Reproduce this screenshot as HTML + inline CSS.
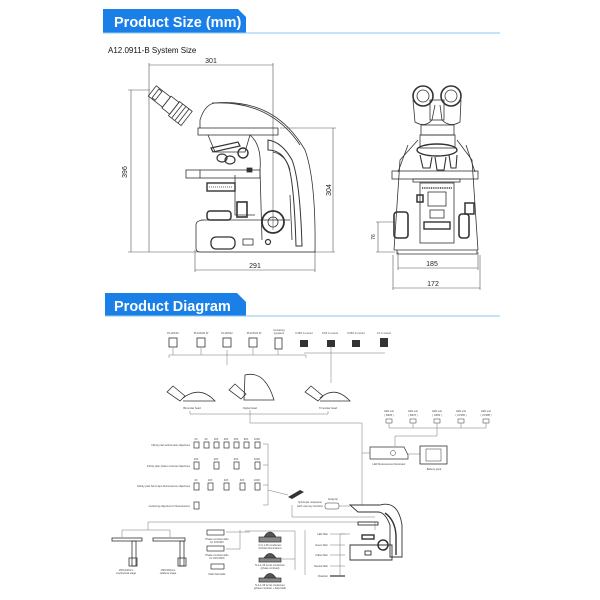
<!DOCTYPE html>
<html><head><meta charset="utf-8"><style>
html,body{margin:0;padding:0;background:#fff;}
svg{display:block;font-family:"Liberation Sans",sans-serif;}
.t{font-size:2.6px;fill:#444;}
</style></head><body>
<svg width="600" height="600" viewBox="0 0 600 600" xmlns="http://www.w3.org/2000/svg">
<!-- header 1 -->
<path d="M103 9 H238 L246 17 V33 H103 Z" fill="#1a7fe6"/>
<line x1="103" y1="33" x2="500" y2="33" stroke="#8ccaf0" stroke-width="1"/>
<text x="114" y="27" font-size="14.5" font-weight="bold" fill="#fff">Product Size (mm)</text>
<text x="108" y="53" font-size="8" fill="#111">A12.0911-B System Size</text>

<g stroke="#555" stroke-width="0.6" fill="none">
<!-- dims left -->
<line x1="149" y1="65" x2="273" y2="65"/><line x1="149" y1="63" x2="149" y2="252"/><line x1="273" y1="63" x2="273" y2="230"/>
<line x1="131" y1="90" x2="131" y2="252"/><line x1="128" y1="90" x2="150" y2="90"/><line x1="128" y1="252" x2="335" y2="252"/>
<line x1="333" y1="128" x2="333" y2="252"/><line x1="280" y1="128" x2="336" y2="128"/>
<line x1="195" y1="270" x2="315" y2="270"/><line x1="195" y1="250" x2="195" y2="272"/><line x1="315" y1="250" x2="315" y2="272"/>
</g>
<!-- left microscope -->
<g stroke="#333" stroke-width="0.8" fill="none">
<g transform="translate(163 100) rotate(38)">
<rect x="-14" y="-7" width="18" height="13"/><rect x="-10" y="-6" width="4" height="11"/>
<rect x="4" y="-8" width="10" height="15"/>
<rect x="14" y="-9" width="16" height="18"/><line x1="18" y1="-9" x2="18" y2="9"/><line x1="22" y1="-9" x2="22" y2="9"/><line x1="26" y1="-9" x2="26" y2="9"/>
</g>
<path d="M200 128 L200 120 Q205 104 215 103 Q275 98 305 150 Q316 180 315 252 H305"/>
<path d="M212 103 Q270 100 300 145"/>
<rect x="198" y="128" width="80" height="7"/>
<path d="M268 140 Q282 142 292 160 Q300 180 302 246 L296 246 Q294 180 288 165 Q282 150 268 150 Z" stroke-width="1"/>
<path d="M273 152 Q286 155 290 170 M290 195 L292 240"/>
<path d="M250 135 Q262 145 260 170 L262 240"/>
<path d="M208 135 L215 152 L245 152 L250 135"/>
<path d="M211 148 L238 142 L240 146 L213 152 Z" stroke-width="1.2"/>
<ellipse cx="222" cy="158" rx="5" ry="4" stroke-width="1.2"/><ellipse cx="230" cy="160" rx="5" ry="4" stroke-width="1.2"/><ellipse cx="243" cy="153" rx="5" ry="5" stroke-width="1.4"/>
<rect x="186" y="170" width="74" height="8"/><line x1="200" y1="170" x2="200" y2="178"/>
<rect x="247" y="168" width="5" height="4" fill="#333"/>
<rect x="207" y="183" width="28" height="8" stroke-width="1.4"/><line x1="209" y1="187" x2="233" y2="187" stroke-dasharray="1 1"/>
<path d="M235 175 V215 H255"/>
<rect x="237" y="202" width="10" height="15" stroke-width="1.6"/>
<rect x="207" y="211" width="24" height="9" rx="3" stroke-width="1.5"/>
<circle cx="273" cy="222" r="11" stroke-width="1.8"/><circle cx="273" cy="222" r="5"/>
<path d="M201 220 H290 M196 225 Q196 220 205 220 M196 225 V248 Q196 252 200 252 H305"/>
<rect x="211" y="237" width="24" height="12" rx="5" stroke-width="1.3"/>
<rect x="243" y="239" width="10" height="6"/><circle cx="268" cy="242" r="2.5" stroke-width="1.2"/>
</g>
<!-- right microscope -->
<g stroke="#333" stroke-width="0.8" fill="none">
<circle cx="423" cy="96" r="10" stroke-width="1.6"/><circle cx="423" cy="96" r="6"/>
<circle cx="451" cy="96" r="10" stroke-width="1.6"/><circle cx="451" cy="96" r="6"/>
<path d="M413 100 L415 122 Q425 128 432 120 L435 105"/><path d="M461 100 L460 122 Q450 128 442 120 L440 105"/>
<rect x="430" y="100" width="14" height="20"/>
<rect x="421" y="125" width="33" height="10"/><rect x="420" y="135" width="35" height="13"/>
<path d="M418 140 L400 160 L394 250 M457 140 L472 160 L478 250"/>
<path d="M408 145 L398 172 M466 145 L475 172"/>
<ellipse cx="437" cy="150" rx="20" ry="6" stroke-width="1.4"/>
<path d="M420 155 L423 168 H430 L432 157 M435 157 L437 170 H444 L446 157 M449 155 L451 168 H456 L457 155" stroke-width="1.1"/>
<rect x="392" y="171" width="86" height="8"/><rect x="413" y="179" width="47" height="3"/>
<rect x="420" y="183" width="34" height="60"/><line x1="422" y1="188" x2="452" y2="188" stroke-width="1.6" stroke-dasharray="1 0.8"/>
<rect x="428" y="192" width="18" height="14"/><rect x="430" y="210" width="14" height="8"/>
<rect x="424" y="222" width="26" height="7" stroke-width="1.4"/>
<rect x="394" y="212" width="14" height="26" rx="3" stroke-width="1.6"/><rect x="459" y="214" width="10" height="24" rx="3" stroke-width="1.6"/>
<rect x="465" y="203" width="9" height="11" stroke-width="1.5"/><rect x="417" y="195" width="6" height="7" stroke-width="1.5"/>
<path d="M394 250 H478 M397 250 V254 H477 V250"/>
</g>
<g stroke="#555" stroke-width="0.6" fill="none">
<line x1="378" y1="222" x2="378" y2="252"/><line x1="376" y1="222" x2="395" y2="222"/><line x1="376" y1="252" x2="395" y2="252"/>
<line x1="398" y1="268" x2="478" y2="268"/><line x1="393" y1="288" x2="480" y2="288"/>
<line x1="398" y1="252" x2="398" y2="270"/><line x1="478" y1="252" x2="478" y2="270"/><line x1="393" y1="255" x2="393" y2="290"/><line x1="480" y1="255" x2="480" y2="290"/>
</g>
<g font-size="7" fill="#222" text-anchor="middle">
<text x="211" y="63">301</text>
<text x="255" y="268">291</text>
<text x="432" y="266">185</text>
<text x="433" y="286">172</text>
<text transform="translate(127 172) rotate(-90)">396</text>
<text transform="translate(331 190) rotate(-90)">304</text>
<text transform="translate(375 237) rotate(-90)" font-size="5">76</text>
</g>

<!-- header 2 -->
<path d="M105 293 H237 L246 302 V316 H105 Z" fill="#1a7fe6"/>
<line x1="105" y1="316" x2="500" y2="316" stroke="#8ccaf0" stroke-width="1"/>
<text x="114" y="311" font-size="14.5" font-weight="bold" fill="#fff">Product Diagram</text>

<g stroke="#777" stroke-width="0.5" fill="none">
<g stroke="#333" stroke-width="0.8">
<rect x="169" y="338" width="8" height="9"/><rect x="197" y="338" width="8" height="9"/><rect x="223" y="338" width="8" height="9"/><rect x="249" y="338" width="8" height="9"/><rect x="275" y="338" width="7" height="11"/>
</g>
<line x1="169" y1="355" x2="306" y2="355"/><line x1="169" y1="355" x2="169" y2="358"/><line x1="306" y1="355" x2="306" y2="358"/><line x1="227" y1="350" x2="227" y2="365"/>
<line x1="173" y1="348" x2="173" y2="355"/><line x1="201" y1="348" x2="201" y2="355"/><line x1="253" y1="348" x2="253" y2="355"/><line x1="278" y1="350" x2="278" y2="355"/>
<g fill="#333" stroke="none"><rect x="300" y="340" width="8" height="7"/><rect x="327" y="340" width="8" height="7"/><rect x="352" y="340" width="8" height="7"/><rect x="380" y="338" width="8" height="9"/></g>
<line x1="304" y1="353" x2="385" y2="353"/><line x1="331" y1="347" x2="331" y2="383"/>
<g stroke="#333" stroke-width="0.8">
<path d="M167 392 l6 -6 l12 10 l-5 5 Z"/><path d="M183 398 Q200 385 215 401 H183"/>
<path d="M229 390 l6 -6 l11 10 l-5 5 Z"/><path d="M245 375 Q265 370 274 400 H244 Z"/>
<path d="M305 392 l6 -6 l12 10 l-5 5 Z"/><path d="M320 398 Q335 385 350 401 H320"/>
</g>
<line x1="190" y1="414" x2="328" y2="414"/><line x1="190" y1="411" x2="190" y2="414"/><line x1="328" y1="411" x2="328" y2="414"/>
<line x1="250" y1="410" x2="250" y2="423"/><line x1="250" y1="423" x2="362" y2="423"/><line x1="362" y1="423" x2="362" y2="505"/>
<g stroke="#333"><rect x="386" y="419" width="6" height="4"/><rect x="410" y="419" width="6" height="4"/><rect x="434" y="419" width="6" height="4"/><rect x="458" y="419" width="6" height="4"/><rect x="483" y="419" width="6" height="4"/></g>
<line x1="389" y1="428" x2="486" y2="428"/><line x1="437" y1="423" x2="437" y2="436"/><line x1="395" y1="436" x2="437" y2="436"/><line x1="395" y1="436" x2="395" y2="446"/>
<line x1="389" y1="423" x2="389" y2="428"/><line x1="413" y1="423" x2="413" y2="428"/><line x1="461" y1="423" x2="461" y2="428"/><line x1="486" y1="423" x2="486" y2="428"/>
<path d="M370 447 H404 L408 455 V459 H370 Z" stroke="#333" stroke-width="0.7"/><circle cx="393" cy="453" r="2.5" stroke="#333"/>
<line x1="362" y1="453" x2="370" y2="453"/><line x1="408" y1="454" x2="420" y2="454"/>
<rect x="420" y="446" width="27" height="18" stroke="#333" stroke-width="0.8"/><rect x="426" y="449" width="15" height="12" stroke="#333"/>
<g stroke="#333" stroke-width="0.7">
<rect x="194" y="442" width="5" height="6"/><rect x="204" y="442" width="5" height="6"/><rect x="214" y="442" width="5" height="6"/><rect x="224" y="442" width="5" height="6"/><rect x="234" y="442" width="5" height="6"/><rect x="244" y="442" width="5" height="6"/><rect x="255" y="442" width="5" height="6"/>
<rect x="194" y="462" width="5" height="7"/><rect x="214" y="462" width="5" height="7"/><rect x="234" y="462" width="5" height="7"/><rect x="255" y="462" width="5" height="7"/>
<rect x="194" y="483" width="5" height="7"/><rect x="208" y="483" width="5" height="7"/><rect x="224" y="483" width="5" height="7"/><rect x="240" y="483" width="5" height="7"/><rect x="255" y="483" width="5" height="7"/>
<rect x="194" y="502" width="5" height="7"/>
</g>
<line x1="263" y1="444" x2="268" y2="444"/><line x1="268" y1="444" x2="268" y2="505"/><line x1="263" y1="505" x2="268" y2="505"/><line x1="263" y1="465" x2="268" y2="465"/><line x1="263" y1="485" x2="268" y2="485"/>
<line x1="268" y1="490" x2="288" y2="495"/>
<path d="M288 497 L300 490 L304 492 L292 499 Z" fill="#333" stroke="none"/>
<line x1="292" y1="505" x2="292" y2="517"/><line x1="292" y1="517" x2="375" y2="517"/>
<rect x="325" y="503" width="14" height="6" rx="2" stroke="#333"/><line x1="339" y1="506" x2="350" y2="506"/>
<line x1="148" y1="522" x2="375" y2="522"/><line x1="148" y1="522" x2="148" y2="530"/><line x1="375" y1="522" x2="375" y2="530"/>
<g stroke="#333" stroke-width="0.8">
<rect x="112" y="538" width="30" height="3"/><rect x="132" y="541" width="4" height="25"/><rect x="129" y="558" width="8" height="8"/>
<rect x="153" y="538" width="32" height="3"/><rect x="180" y="541" width="4" height="25"/><rect x="178" y="558" width="8" height="8"/>
</g>
<line x1="148" y1="530" x2="122" y2="530"/><line x1="148" y1="530" x2="170" y2="530"/><line x1="122" y1="530" x2="122" y2="537"/><line x1="170" y1="530" x2="170" y2="537"/>
<g stroke="#333" stroke-width="0.7">
<rect x="207" y="530" width="17" height="5"/><rect x="207" y="546" width="17" height="5"/><rect x="211" y="564" width="13" height="5"/>
<path d="M264 537 Q270 527 276 537 Z" fill="#555"/><rect x="259" y="537" width="22" height="5" fill="#888"/>
<path d="M264 558 Q270 549 276 558 Z" fill="#555"/><rect x="259" y="558" width="22" height="4" fill="#888"/>
<path d="M264 578 Q270 569 276 578 Z" fill="#555"/><rect x="259" y="578" width="22" height="4" fill="#888"/>
</g>
<line x1="226" y1="532" x2="240" y2="532"/><line x1="226" y1="549" x2="240" y2="549"/><line x1="240" y1="530" x2="240" y2="549"/><line x1="240" y1="532" x2="250" y2="532"/>
<line x1="245" y1="531" x2="295" y2="531"/><line x1="295" y1="531" x2="295" y2="570"/><line x1="282" y1="559" x2="295" y2="559"/><line x1="305" y1="530" x2="305" y2="575"/>
<line x1="330" y1="534" x2="345" y2="534"/><line x1="330" y1="545" x2="345" y2="545"/><line x1="330" y1="555" x2="345" y2="555"/><line x1="330" y1="566" x2="345" y2="566"/><line x1="330" y1="576" x2="345" y2="576" stroke="#333" stroke-width="1.2"/>
<line x1="340" y1="534" x2="340" y2="576"/><line x1="340" y1="534" x2="350" y2="534"/>
<g stroke="#333" stroke-width="0.9">
<path d="M350 505 H380 Q398 500 402 525 V557 H390 V525 Q385 512 378 512 H358 Z"/>
<path d="M385 513 Q395 520 396 535 V555" stroke-width="1.4"/>
<rect x="358" y="522" width="20" height="3"/><rect x="362" y="535" width="12" height="4" stroke-width="1.4"/>
<circle cx="383" cy="545" r="5" stroke-width="1.5"/>
<path d="M350 545 H392 V560 H350 Z"/><rect x="365" y="551" width="6" height="4"/>
</g>
</g>
<g class="t" text-anchor="middle">
<text x="173" y="334">PL10X/20</text><text x="201" y="334">PL10X/20 W</text><text x="227" y="334">PL10X/22</text><text x="254" y="334">PL10X/22 W</text><text x="279" y="331">Centering</text><text x="279" y="334">eyepiece</text>
<text x="304" y="334">0.35X C-mount</text><text x="330" y="334">0.5X C-mount</text><text x="356" y="334">0.65X C-mount</text><text x="384" y="334">1X C-mount</text>
<text x="192" y="409">Binocular head</text><text x="250" y="409">Digital head</text><text x="328" y="409">Trinocular head</text>
<text x="389" y="412">LED unit</text><text x="413" y="412">LED unit</text><text x="437" y="412">LED unit</text><text x="461" y="412">LED unit</text><text x="486" y="412">LED unit</text>
<text x="389" y="416">( B405 )</text><text x="413" y="416">( B470 )</text><text x="437" y="416">( G560 )</text><text x="461" y="416">( UV365 )</text><text x="486" y="416">( UV385 )</text>
<text x="389" y="465">LED fluorescence illuminator</text><text x="434" y="470">Battery pack</text>
<text x="310" y="503">Quintuple nosepiece</text><text x="310" y="507">(with memory function)</text><text x="333" y="500">Analyzer</text>
<text x="126" y="571">150X140mm</text><text x="126" y="574">mechanical stage</text><text x="168" y="571">150X160mm</text><text x="168" y="574">rackless stage</text>
<text x="217" y="540">Phase contrast slide</text><text x="217" y="543">for 10X/40X</text><text x="217" y="556">Phase contrast slide</text><text x="217" y="559">for 20X/100X</text><text x="217" y="575">Dark field slide</text>
<text x="270" y="546">N.A.1.25 condenser</text><text x="270" y="549">(Kohler illumination)</text>
<text x="270" y="566">N.A.1.25 turret condenser</text><text x="270" y="569">(phase contrast)</text>
<text x="270" y="586">N.A.1.25 turret condenser</text><text x="270" y="589">(phase contrast + dark field)</text>
</g>
<g class="t" text-anchor="end">
<text x="190" y="446">Infinity plan achromatic objectives</text><text x="190" y="467">Infinity plan phase contrast objectives</text>
<text x="190" y="487">Infinity plan Semi-Apo fluorescence objectives</text><text x="190" y="507">Centering objective for fluorescence</text>
<text x="328" y="535">LED filter</text><text x="328" y="546">Green filter</text><text x="328" y="556">Yellow filter</text><text x="328" y="567">Neutral filter</text><text x="328" y="577">Polarizer</text>
</g>
<g class="t" font-size="2.4" text-anchor="middle">
<text x="196" y="440">2X</text><text x="206" y="440">4X</text><text x="216" y="440">10X</text><text x="226" y="440">20X</text><text x="236" y="440">40X</text><text x="246" y="440">60X</text><text x="257" y="440">100X</text>
<text x="196" y="460">10X</text><text x="216" y="460">20X</text><text x="236" y="460">40X</text><text x="257" y="460">100X</text>
<text x="196" y="481">4X</text><text x="210" y="481">10X</text><text x="226" y="481">20X</text><text x="242" y="481">40X</text><text x="257" y="481">100X</text>
</g>
</svg>
</body></html>
